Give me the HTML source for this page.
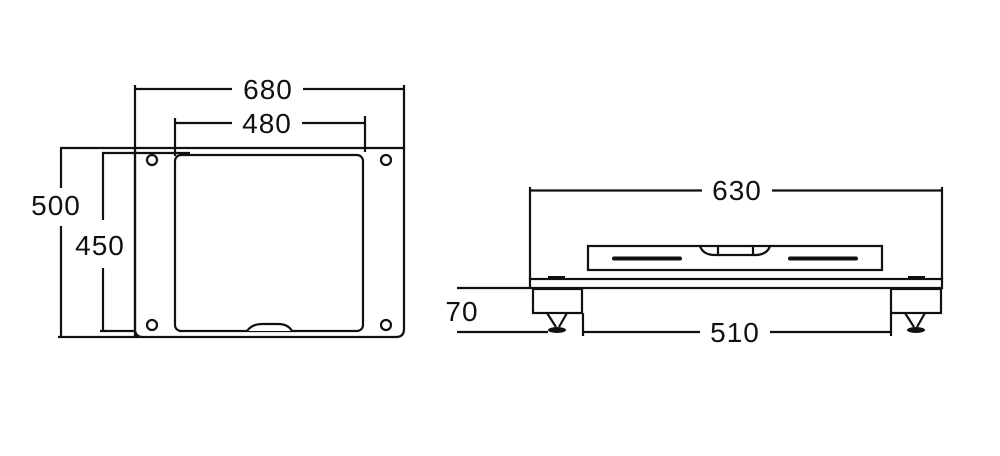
<!DOCTYPE html>
<html><head><meta charset="utf-8"><style>
html,body{margin:0;padding:0;background:#fff;}
svg{display:block;}
text{font-family:"Liberation Sans",sans-serif;font-size:28px;fill:#111;text-anchor:middle;letter-spacing:1px;}
</style></head><body>
<svg width="1000" height="456" viewBox="0 0 1000 456" xmlns="http://www.w3.org/2000/svg">
<rect width="1000" height="456" fill="#fff"/>
<g stroke="#111" stroke-width="2.2" fill="none">
<line x1="135" y1="85" x2="135" y2="337"/>
<line x1="404" y1="85" x2="404" y2="150"/>
<line x1="135" y1="89" x2="232" y2="89"/>
<line x1="303" y1="89" x2="404" y2="89"/>
<line x1="175" y1="118" x2="175" y2="156"/>
<line x1="365" y1="116" x2="365" y2="152"/>
<line x1="175" y1="123" x2="232" y2="123"/>
<line x1="302" y1="123" x2="365" y2="123"/>
<line x1="60" y1="148" x2="135" y2="148"/>
<line x1="61" y1="148" x2="61" y2="188"/>
<line x1="61" y1="226" x2="61" y2="337"/>
<line x1="58" y1="337" x2="140" y2="337"/>
<line x1="102" y1="153" x2="190" y2="153"/>
<line x1="103" y1="153" x2="103" y2="220"/>
<line x1="103" y1="268" x2="103" y2="331"/>
<line x1="100" y1="331" x2="135" y2="331"/>
<path d="M135 148 H404 V329 Q404 337 396 337 H143 Q135 337 135 329 Z"/>
<rect x="175" y="155" width="188" height="176" rx="6"/>
<path d="M247 331 Q252 324 262 324 H278 Q288 324 292 331" fill="#fff"/>
<circle cx="152" cy="160" r="5"/>
<circle cx="386" cy="160" r="5"/>
<circle cx="152" cy="325" r="5"/>
<circle cx="386" cy="325" r="5"/>
<line x1="530" y1="187" x2="530" y2="280"/>
<line x1="942" y1="187" x2="942" y2="280"/>
<line x1="530" y1="190.5" x2="702" y2="190.5"/>
<line x1="772" y1="190.5" x2="942" y2="190.5"/>
<rect x="588" y="246" width="294" height="24"/>
<path d="M700 246 Q703 255 715 255 H755 Q767 255 770 246"/>
<line x1="718" y1="246" x2="718" y2="255"/>
<line x1="753" y1="246" x2="753" y2="255"/>
<rect x="530" y="279" width="412" height="9"/>
<rect x="533" y="289" width="49" height="24"/>
<rect x="891" y="289" width="50" height="24"/>
<path d="M547 313 L556 327 M567 313 L559 327"/>
<path d="M905 313 L914 327 M925 313 L917 327"/>
<line x1="457" y1="288" x2="530" y2="288"/>
<line x1="457" y1="332" x2="548" y2="332"/>
<line x1="583" y1="313" x2="583" y2="336"/>
<line x1="891" y1="313" x2="891" y2="336"/>
<line x1="583" y1="332" x2="700" y2="332"/>
<line x1="770" y1="332" x2="891" y2="332"/>
</g>
<g fill="#111">
<rect x="612" y="256.5" width="70" height="4" rx="2"/>
<rect x="788" y="256.5" width="70" height="4" rx="2"/>
<rect x="548" y="276" width="17" height="3"/>
<rect x="908" y="276" width="17" height="3"/>
<ellipse cx="557" cy="330" rx="9" ry="3"/>
<ellipse cx="916" cy="330" rx="9" ry="3"/>
</g>
<text x="268" y="99">680</text>
<text x="267" y="133">480</text>
<text x="56" y="215">500</text>
<text x="100" y="255">450</text>
<text x="737" y="200">630</text>
<text x="462" y="321">70</text>
<text x="735" y="342">510</text>
</svg>
</body></html>
